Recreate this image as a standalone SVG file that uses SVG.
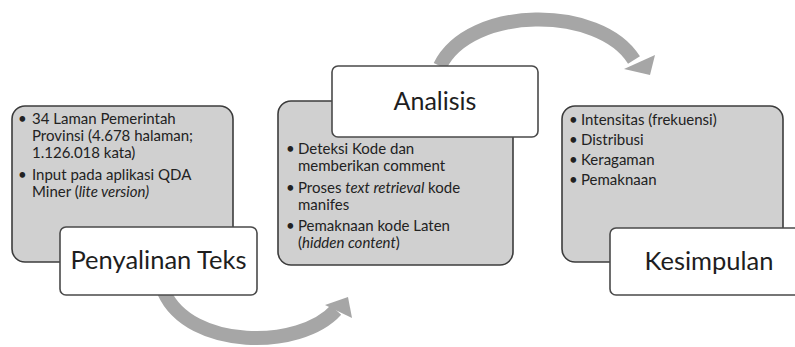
<svg xmlns="http://www.w3.org/2000/svg" width="795" height="347" viewBox="0 0 795 347">
<style>
.panel{fill:#d0d0d0;stroke:#3c3c3c;stroke-width:1.6}
.label{fill:#ffffff;stroke:#4a4a4a;stroke-width:1.6}
.body{font-family:Lato,"Open Sans",sans-serif;font-size:15px;fill:#222}
.title{font-family:Lato,"Open Sans",sans-serif;font-size:25.5px;fill:#1e1e1e}
.arc{fill:none;stroke:#a6a6a6;stroke-width:14}
.head{fill:#a6a6a6}
.it{font-style:italic}
</style>
<rect width="795" height="347" fill="#ffffff"/>
<g id="connectors">
  <path class="arc" d="M440,66 C470,5 600,5 634,60"/>
  <polygon class="head" points="624,69 655,55 650,75"/>
  <path class="arc" d="M164,292 C190,350 300,350 336,310"/>
  <polygon class="head" points="325,305 348,297 352,318"/>
</g>
<g id="node-penyalinan">
  <rect class="panel" x="12" y="106" width="221" height="156" rx="13"/>
  <text class="body" x="18" y="124">•</text>
  <text class="body" x="32" y="124">34 Laman Pemerintah</text>
  <text class="body" x="32" y="141">Provinsi (4.678 halaman;</text>
  <text class="body" x="32" y="158">1.126.018 kata)</text>
  <text class="body" x="18" y="180">•</text>
  <text class="body" x="32" y="180">Input pada aplikasi QDA</text>
  <text class="body" x="32" y="197">Miner (<tspan class="it">lite version)</tspan></text>
  <rect class="label" x="60" y="227" width="197" height="68" rx="6"/>
  <text class="title" x="158.5" y="269" text-anchor="middle">Penyalinan Teks</text>
</g>
<g id="node-analisis">
  <rect class="panel" x="278" y="101" width="235" height="164" rx="13"/>
  <text class="body" x="286" y="154">•</text>
  <text class="body" x="298" y="154">Deteksi Kode dan</text>
  <text class="body" x="298" y="171">memberikan comment</text>
  <text class="body" x="286" y="193">•</text>
  <text class="body" x="298" y="193">Proses <tspan class="it">text retrieval</tspan> kode</text>
  <text class="body" x="298" y="210">manifes</text>
  <text class="body" x="286" y="231">•</text>
  <text class="body" x="298" y="231">Pemaknaan kode Laten</text>
  <text class="body" x="298" y="248">(<tspan class="it">hidden content</tspan>)</text>
  <rect class="label" x="332" y="66" width="206" height="71" rx="6"/>
  <text class="title" x="435" y="110" text-anchor="middle" style="font-size:25px">Analisis</text>
</g>
<g id="node-kesimpulan">
  <rect class="panel" x="562" y="106" width="221" height="156" rx="13"/>
  <text class="body" x="569" y="125">•</text>
  <text class="body" x="581" y="125">Intensitas (frekuensi)</text>
  <text class="body" x="569" y="145">•</text>
  <text class="body" x="581" y="145">Distribusi</text>
  <text class="body" x="569" y="165">•</text>
  <text class="body" x="581" y="165">Keragaman</text>
  <text class="body" x="569" y="185">•</text>
  <text class="body" x="581" y="185">Pemaknaan</text>
  <rect class="label" x="610" y="228" width="195" height="67" rx="6"/>
  <text class="title" x="709" y="270" text-anchor="middle">Kesimpulan</text>
</g>
</svg>
